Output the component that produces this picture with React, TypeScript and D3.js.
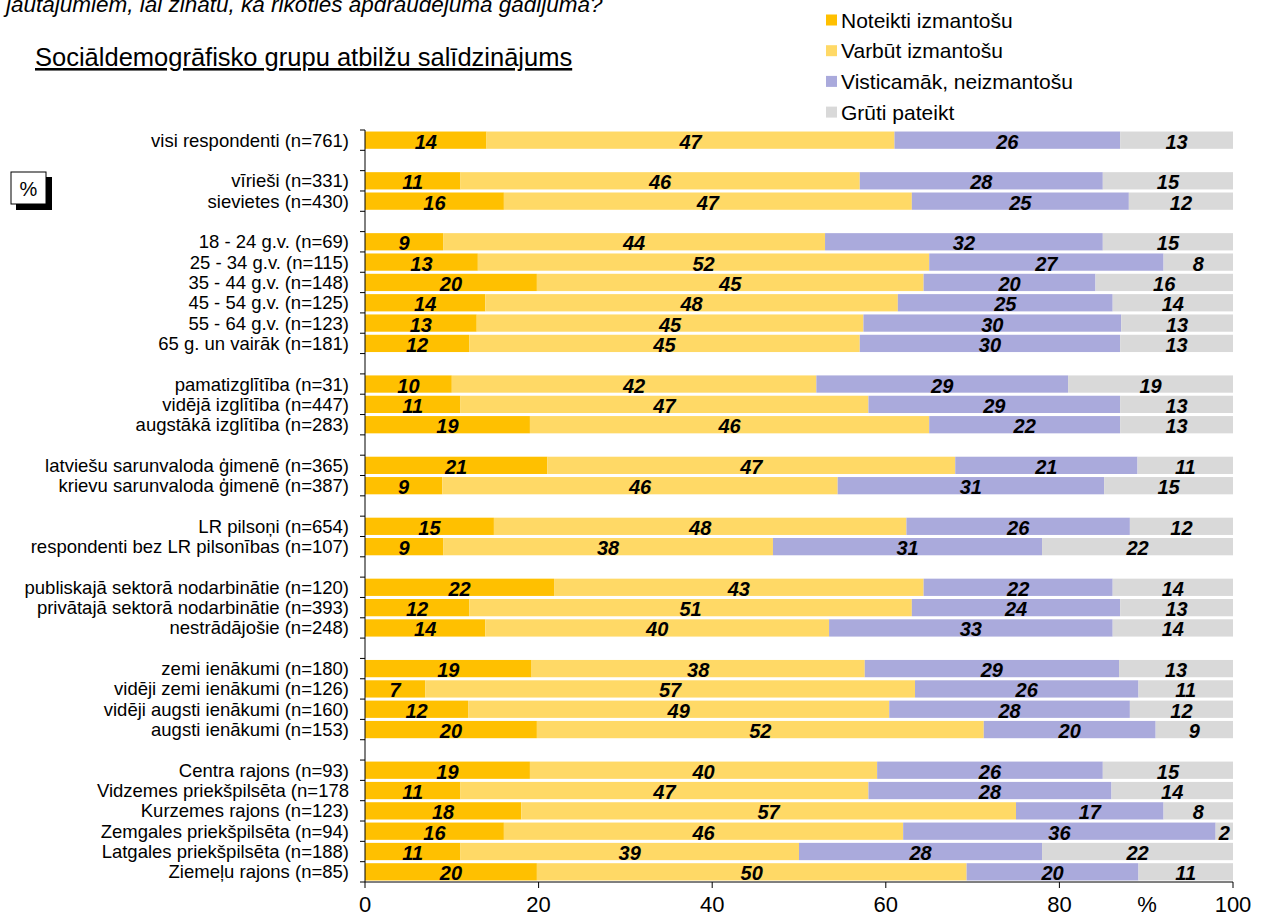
import * as d3 from 'd3';

const groups = [
  ['visi respondenti (n=761)'],
  ['vīrieši (n=331)', 'sievietes (n=430)'],
  ['18 - 24 g.v. (n=69)', '25 - 34 g.v. (n=115)', '35 - 44 g.v. (n=148)', '45 - 54 g.v. (n=125)', '55 - 64 g.v. (n=123)', '65 g. un vairāk (n=181)'],
  ['pamatizglītība (n=31)', 'vidējā izglītība (n=447)', 'augstākā izglītība (n=283)'],
  ['latviešu sarunvaloda ģimenē (n=365)', 'krievu sarunvaloda ģimenē (n=387)'],
  ['LR pilsoņi (n=654)', 'respondenti bez LR pilsonības (n=107)'],
  ['publiskajā sektorā nodarbinātie (n=120)', 'privātajā sektorā nodarbinātie (n=393)', 'nestrādājošie (n=248)'],
  ['zemi ienākumi (n=180)', 'vidēji zemi ienākumi (n=126)', 'vidēji augsti ienākumi (n=160)', 'augsti ienākumi (n=153)'],
  ['Centra rajons (n=93)', 'Vidzemes priekšpilsēta (n=178', 'Kurzemes rajons (n=123)', 'Zemgales priekšpilsēta (n=94)', 'Latgales priekšpilsēta (n=188)', 'Ziemeļu rajons (n=85)'],
];

const noteikti = [14, 11, 16, 9, 13, 20, 14, 13, 12, 10, 11, 19, 21, 9, 15, 9, 22, 12, 14, 19, 7, 12, 20, 19, 11, 18, 16, 11, 20];
const varbut = [47, 46, 47, 44, 52, 45, 48, 45, 45, 42, 47, 46, 47, 46, 48, 38, 43, 51, 40, 38, 57, 49, 52, 40, 47, 57, 46, 39, 50];
const visticamak = [26, 28, 25, 32, 27, 20, 25, 30, 30, 29, 29, 22, 21, 31, 26, 31, 22, 24, 33, 29, 26, 28, 20, 26, 28, 17, 36, 28, 20];
const gruti = [13, 15, 12, 15, 8, 16, 14, 13, 13, 19, 13, 13, 11, 15, 12, 22, 14, 13, 14, 13, 11, 12, 9, 15, 14, 8, 2, 22, 11];

const seriesNames = ['Noteikti izmantošu', 'Varbūt izmantošu', 'Visticamāk, neizmantošu', 'Grūti pateikt'];
const colors = ['#FFC000', '#FFD966', '#AAAADC', '#D9D9D9'];
const xTicks = [0, 20, 40, 60, 80, 100];

const font = '"Liberation Sans", Arial, sans-serif';

// slots: categories plus an empty slot between groups
const slots: string[] = [];
groups.forEach((g, i) => {
  if (i > 0) slots.push(`gap${i}`);
  g.forEach(c => slots.push(c));
});
const categories = groups.flat();

const rows = categories.map((c, i) => ({
  cat: c, s0: noteikti[i], s1: varbut[i], s2: visticamak[i], s3: gruti[i],
}));

const App = () => {
  const width = 1261;
  const height = 916;
  const left = 365;
  const right = 1233;
  const top = 130;
  const bottom = 882;

  const x = d3.scaleLinear().domain([0, 1]).range([left, right]);
  const y = d3.scaleBand<string>().domain(slots).range([top, bottom]).paddingInner(0.15).paddingOuter(0.075);
  const step = (bottom - top) / slots.length;

  const stack = d3.stack<any>().keys(['s0', 's1', 's2', 's3']).offset(d3.stackOffsetExpand);
  const layers = stack(rows);
  const raw = [noteikti, varbut, visticamak, gruti];

  return (
    <svg width={width} height={height} style={{ position: 'absolute', left: 0, top: 0, background: '#fff' }} fontFamily={font}>
      <text x={6} y={12} fontSize={22.5} fontStyle="italic" fill="#000">
        jautājumiem, lai zinātu, kā rīkoties apdraudējuma gadījumā?
      </text>
      <text x={35} y={66} fontSize={25.5} textDecoration="underline" fill="#000">
        Sociāldemogrāfisko grupu atbilžu salīdzinājums
      </text>

      {/* % box */}
      <rect x={16} y={177} width={36} height={33} fill="#000" />
      <rect x={11} y={172} width={35} height={32} fill="#fff" stroke="#000" strokeWidth={1} />
      <text x={28.5} y={189} fontSize={20} textAnchor="middle" dominantBaseline="central">%</text>

      {/* legend */}
      {seriesNames.map((n, i) => (
        <g key={n} transform={`translate(826,${20 + i * 30.7})`}>
          <rect x={0} y={-5.5} width={11} height={11} fill={colors[i]} />
          <text x={15} y={7.5} fontSize={21}>{n}</text>
        </g>
      ))}

      {/* bars */}
      {layers.map((layer, li) => (
        <g key={li}>
          {layer.map((d, i) => {
            const yy = y(categories[i])!;
            const x0 = x(d[0]);
            const x1 = x(d[1]);
            return (
              <g key={i}>
                <rect x={x0} y={yy} width={x1 - x0} height={y.bandwidth()} fill={colors[li]} />
                <text x={(x0 + x1) / 2} y={yy + y.bandwidth() / 2 + 1.5} fontSize={20} fontWeight="bold" fontStyle="italic"
                  textAnchor="middle" dominantBaseline="central">{raw[li][i]}</text>
              </g>
            );
          })}
        </g>
      ))}

      {/* category labels */}
      {categories.map(c => (
        <text key={c} x={349} y={y(c)! + y.bandwidth() / 2} fontSize={18.5} textAnchor="end" dominantBaseline="central">{c}</text>
      ))}

      {/* y axis */}
      <line x1={left} x2={left} y1={top} y2={bottom} stroke="#000" />
      {d3.range(slots.length + 1).map(i => (
        <line key={i} x1={left - 5} x2={left} y1={top + i * step} y2={top + i * step} stroke="#000" />
      ))}

      {/* x axis */}
      <line x1={left} x2={right} y1={bottom} y2={bottom} stroke="#000" />
      {xTicks.map(t => (
        <g key={t}>
          <line x1={x(t / 100)} x2={x(t / 100)} y1={bottom} y2={bottom + 6} stroke="#000" />
          <text x={x(t / 100)} y={912} fontSize={22} textAnchor="middle">{t}</text>
        </g>
      ))}
      <text x={1147} y={912} fontSize={22} textAnchor="middle">%</text>
    </svg>
  );
};

export default App;
